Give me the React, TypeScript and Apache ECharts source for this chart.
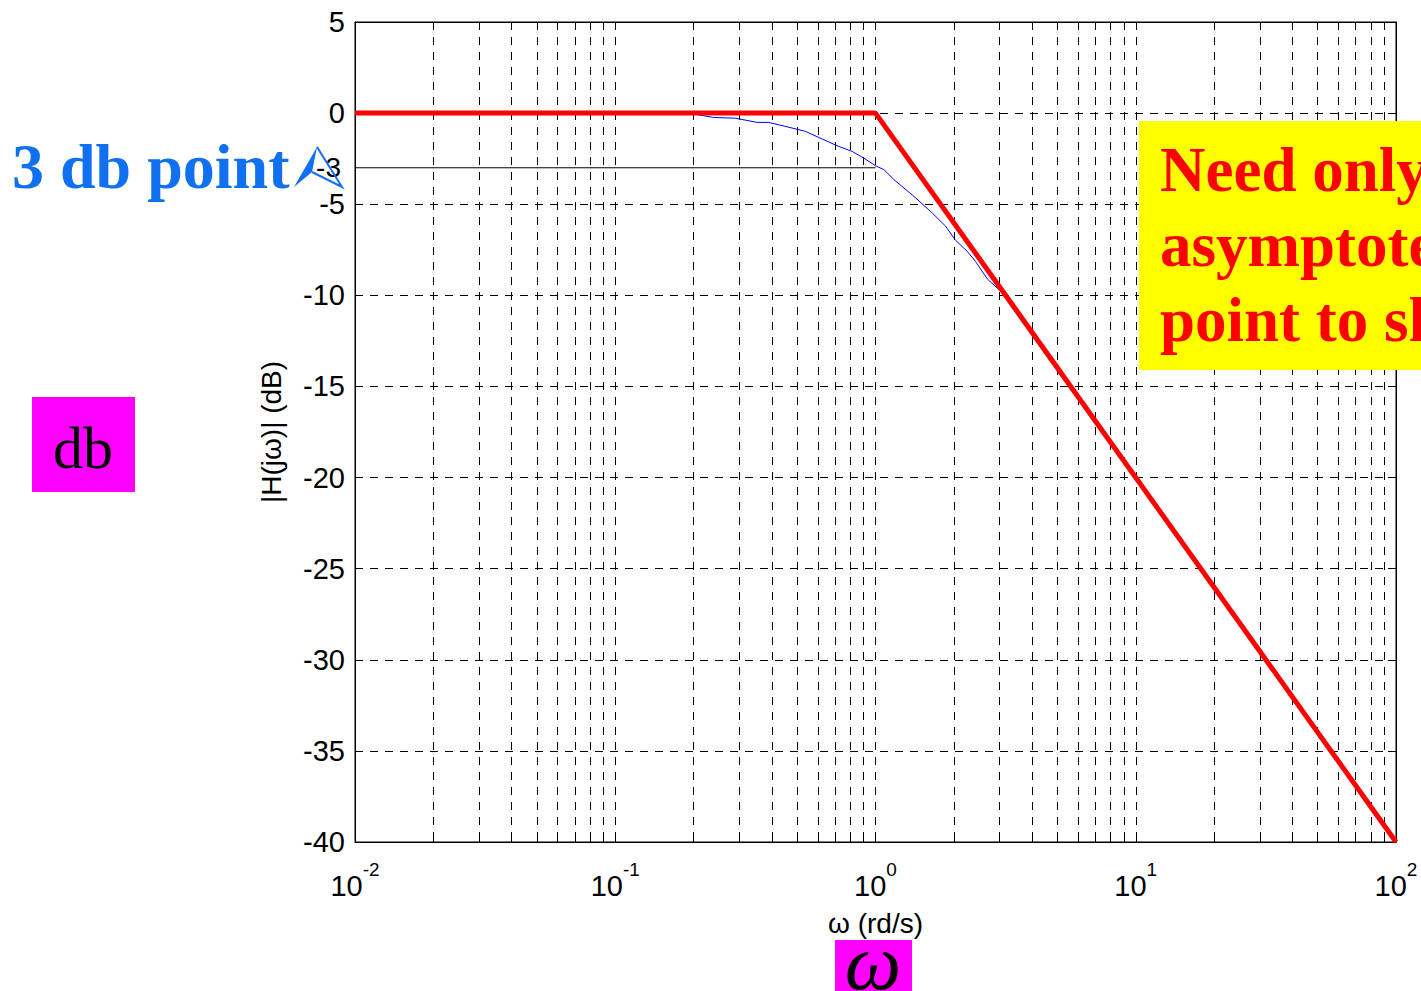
import React, { useEffect, useRef } from "react";
import * as echarts from "echarts";

// ---- data ----
// frequency (rd/s) of the measured (blue) curve and its magnitude (dB)
const curveW = [0.01, 0.05, 0.127, 0.2, 0.239, 0.29, 0.351, 0.389, 0.451, 0.538, 0.606, 0.723, 0.813, 0.902, 1.0, 1.077, 1.177, 1.405, 1.652, 1.858, 2.03, 2.25, 2.42, 2.69, 3.03, 5, 10, 30, 100];
const curveDb = [0, 0, 0, -0.05, -0.24, -0.28, -0.51, -0.51, -0.73, -1.0, -1.34, -1.83, -2.1, -2.47, -2.89, -3.1, -3.65, -4.57, -5.48, -6.2, -6.98, -7.58, -8.13, -9.1, -9.78, -14.15, -20.04, -29.5, -40];
// asymptote (red)
const asymW = [0.01, 1, 100];
const asymDb = [0, 0, -40];
// 3 dB reference line (black)
const refW = [0.01, 1];
const refDb = [-3, -3];
// axis ticks
const decadeExps = [-2, -1, 0, 1, 2];
const minorMultipliers = [1, 2, 3, 4, 5, 6, 7, 8, 9];
const yMin = -40;
const yMax = 5;
const yStep = 5;

const FONT_SANS = "'Liberation Sans', Arial, sans-serif";
const FONT_SERIF = "'Liberation Serif', 'Times New Roman', serif";

const toPairs = (w: number[], db: number[]) => w.map((v, i) => [Math.log10(v), db[i]]);

export default function App() {
  const ref = useRef<HTMLDivElement>(null);
  useEffect(() => {
    if (!ref.current) return;
    const chart = echarts.init(ref.current, undefined, { renderer: "svg" });

    const tickValues: number[] = [];
    decadeExps.slice(0, -1).forEach((e) => {
      minorMultipliers.forEach((m) => tickValues.push(Math.log10(m * Math.pow(10, e))));
    });
    tickValues.push(decadeExps[decadeExps.length - 1]);

    const dash = [8, 7];

    chart.setOption({
      animation: false,
      grid: {
        left: 355,
        right: 25,
        top: 22,
        bottom: 149,
        show: true,
        borderColor: "#000",
        borderWidth: 1,
        backgroundColor: "transparent",
      },
      xAxis: [
        {
          type: "value",
          min: -2,
          max: 2,
          interval: 1,
          name: "ω (rd/s)",
          nameLocation: "middle",
          nameGap: 66,
          nameTextStyle: { fontFamily: FONT_SANS, fontSize: 28, color: "#000", lineHeight: 30 },
          axisLine: { show: true, onZero: false, lineStyle: { color: "#000", width: 1 } },
          axisTick: { show: true, inside: true, length: 6, lineStyle: { color: "#000" }, customValues: tickValues },
          splitLine: { show: true, lineStyle: { color: "#000", type: dash, width: 1 } },
          axisLabel: {
            customValues: decadeExps,
            margin: 18,
            formatter: (v: number) => `{b|10}{s|${Math.round(v)}}`,
            rich: {
              b: { fontFamily: FONT_SANS, fontSize: 29, color: "#000", lineHeight: 40, verticalAlign: "bottom" },
              s: { fontFamily: FONT_SANS, fontSize: 19, color: "#000", lineHeight: 22, verticalAlign: "top" },
            },
          },
        },
        {
          type: "value",
          position: "top",
          min: -2,
          max: 2,
          interval: 1,
          axisLine: { show: true, onZero: false, lineStyle: { color: "#000" } },
          axisTick: { show: true, inside: true, length: 6, lineStyle: { color: "#000" }, customValues: tickValues },
          axisLabel: { show: false },
          splitLine: { show: false },
        },
      ],
      yAxis: [
        {
          type: "value",
          min: yMin,
          max: yMax,
          interval: yStep,
          name: "|H(jω)| (dB)",
          nameLocation: "middle",
          nameGap: 70,
          nameRotate: 90,
          nameTextStyle: { fontFamily: FONT_SANS, fontSize: 28, color: "#000" },
          axisLine: { show: true, onZero: false, lineStyle: { color: "#000" } },
          axisTick: { show: true, inside: true, length: 8, lineStyle: { color: "#000" } },
          splitLine: { show: true, lineStyle: { color: "#000", type: dash, width: 1 } },
          axisLabel: { fontFamily: FONT_SANS, fontSize: 29, color: "#000", margin: 10 },
        },
        {
          type: "value",
          position: "right",
          min: yMin,
          max: yMax,
          interval: yStep,
          axisLine: { show: true, onZero: false, lineStyle: { color: "#000" } },
          axisTick: { show: true, inside: true, length: 8, lineStyle: { color: "#000" } },
          axisLabel: { show: false },
          splitLine: { show: false },
        },
      ],
      series: [
        {
          type: "line",
          data: toPairs(refW, refDb),
          symbol: "none",
          lineStyle: { color: "#000", width: 1 },
          z: 2,
        },
        {
          type: "line",
          data: toPairs(curveW, curveDb),
          symbol: "none",
          lineStyle: { color: "#0000ff", width: 1 },
          z: 3,
        },
        {
          type: "line",
          data: toPairs(asymW, asymDb),
          symbol: "none",
          lineStyle: { color: "#ff0000", width: 5 },
          z: 4,
        },
      ],
      graphic: [
        {
          type: "text",
          left: 12,
          top: 134,
          z: 10,
          style: { text: "3 db point", fontFamily: FONT_SERIF, fontWeight: "bold", fontSize: 64, fill: "#1070f0" },
        },
        {
          type: "text",
          x: 341,
          y: 167,
          z: 10,
          style: { text: "-3", fontFamily: FONT_SANS, fontSize: 28, fill: "#000", align: "right", verticalAlign: "middle" },
        },
        {
          type: "polygon",
          z: 11,
          shape: { points: [[317, 147], [294, 187], [312, 172]] },
          style: { fill: "#1070f0" },
        },
        {
          type: "polyline",
          z: 11,
          shape: { points: [[317, 147], [342, 187], [312, 172]] },
          style: { stroke: "#1070f0", lineWidth: 2, fill: null },
        },
        {
          type: "rect",
          z: 10,
          shape: { x: 1139, y: 121, width: 300, height: 249 },
          style: { fill: "#ffff00" },
        },
        {
          type: "text",
          x: 1160,
          y: 132,
          z: 11,
          style: {
            text: "Need only\nasymptote\npoint to sketch",
            fontFamily: FONT_SERIF,
            fontWeight: "bold",
            fontSize: 63,
            lineHeight: 75,
            fill: "#ff0000",
            verticalAlign: "top",
          },
        },
        {
          type: "rect",
          z: 10,
          shape: { x: 32, y: 397, width: 103, height: 95 },
          style: { fill: "#ff00ff" },
        },
        {
          type: "text",
          x: 83,
          y: 448,
          z: 11,
          style: { text: "db", fontFamily: FONT_SERIF, fontSize: 60, fill: "#000", align: "center", verticalAlign: "middle" },
        },
        {
          type: "rect",
          z: 10,
          shape: { x: 835, y: 940, width: 77, height: 60 },
          style: { fill: "#ff00ff" },
        },
        {
          type: "text",
          x: 873,
          y: 962,
          z: 11,
          style: { text: "ω", fontFamily: FONT_SERIF, fontStyle: "italic", fontSize: 80, lineHeight: 40, fill: "#000", align: "center", verticalAlign: "middle" },
        },
      ],
    });
    return () => chart.dispose();
  }, []);
  return <div ref={ref} style={{ position: "absolute", left: 0, top: 0, width: 1421, height: 991 }} />;
}
